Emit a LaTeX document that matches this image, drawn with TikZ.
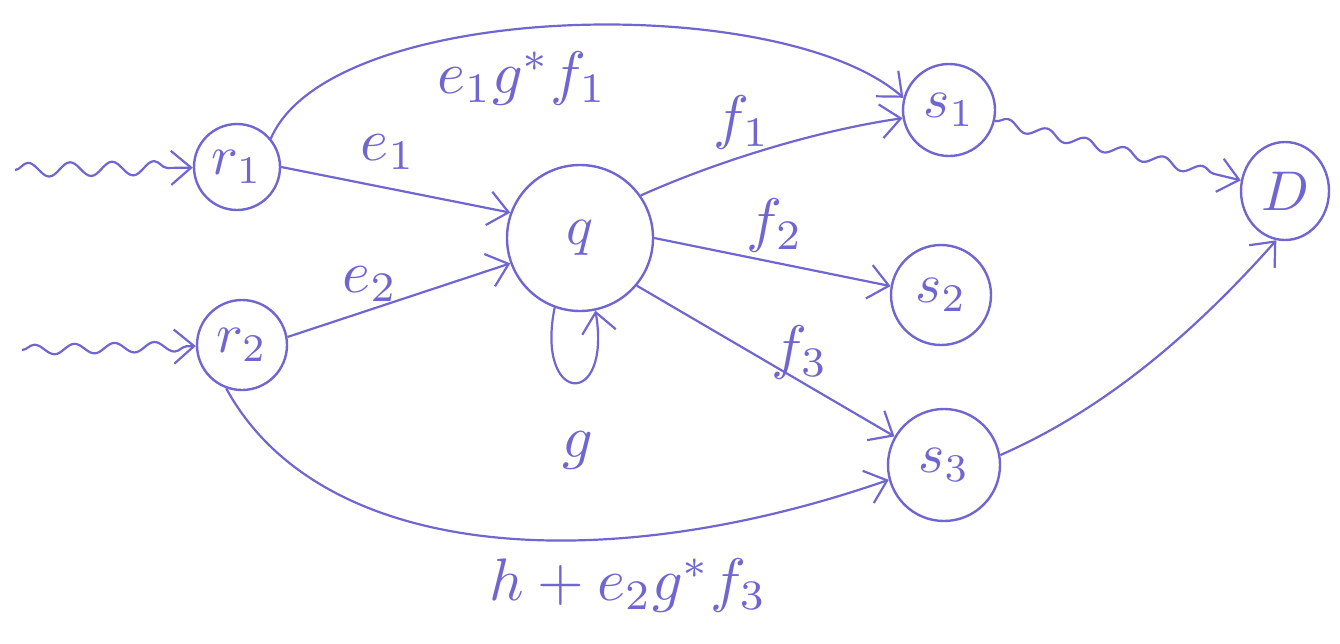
\documentclass[tikz,border=0pt]{standalone}
\usepackage{graphicx}
\usetikzlibrary{arrows.meta,decorations.pathmorphing,shapes.geometric}
\definecolor{ink}{RGB}{112,102,210}
\newcommand{\bigtxt}[1]{\scalebox{5.6}{#1}}
\newcommand{\labtxt}[1]{\scalebox{6}{#1}}
\begin{document}
\begin{tikzpicture}[x=1pt,y=-1pt,
  st/.style={draw=ink,circle,line width=2.4pt,text=ink,inner sep=0pt},
  ed/.style={draw=ink,line width=2.2pt,-{Straight Barb[length=20pt,width=34pt,line width=2.2pt]}},
  wav/.style={ed,decorate,decoration={snake,amplitude=7pt,segment length=42pt,post length=8pt}},
  wavs/.style={ed,decorate,decoration={snake,amplitude=5pt,segment length=40pt,post length=8pt}},
  lab/.style={text=ink}]
\useasboundingbox (0,0) rectangle (1340,643);
\node[st,minimum size=86pt] (r1) at (237,167) {\bigtxt{$r_1$}};
\node[st,minimum size=90pt] (r2) at (242,345) {\bigtxt{$r_2$}};
\node[st,minimum size=146pt] (q) at (580,238) {\bigtxt{$q$}};
\node[st,minimum size=92pt] (s1) at (949,110) {\bigtxt{$s_1$}};
\node[st,minimum size=100pt] (s2) at (941,295) {\bigtxt{$s_2$}};
\node[st,minimum size=112pt] (s3) at (944,465) {\bigtxt{$s_3$}};
\node[st,ellipse,minimum width=88pt,minimum height=98pt] (o) at (1285,191) {\bigtxt{$D$}};
\coordinate (in1) at (15,170);
\coordinate (in2) at (22,350);
\draw[wav] (in1) -- (r1);
\draw[wavs] (in2) -- (r2);
\draw[ed] (r1.40) .. controls (330,0) and (780,-10) .. (s1.165);
\draw[ed] (r1.east) -- (q.160);
\draw[ed] (r2.10) -- (q.200);
\draw[ed] (q.35) .. controls (720,160) and (820,130) .. (s1.190);
\draw[ed] (q.east) -- (s2.170);
\draw[ed] (q.-40) -- (s3.150);
\draw[ed] (q.250) .. controls (535,405) and (612,410) .. (q.282);
\draw[ed] (r2.250) .. controls (320,560) and (600,580) .. (s3.195);
\draw[wavs] (s1) -- (o);
\draw[ed] (s3.10) .. controls (1080,420) and (1170,360) .. (o.260);
\node[lab] (l1) at (522,78) {\labtxt{$e_1g^*f_1$}};
\node[lab] (l2) at (388,152) {\labtxt{$e_1$}};
\node[lab] (l3) at (370,284) {\labtxt{$e_2$}};
\node[lab] (l4) at (742,122) {\labtxt{$f_1$}};
\node[lab] (l5) at (775,225) {\labtxt{$f_2$}};
\node[lab] (l6) at (800,352) {\labtxt{$f_3$}};
\node[lab] (l7) at (578,450) {\labtxt{$g$}};
\node[lab] (l8) at (628,585) {\labtxt{$h+e_2g^*f_3$}};
\end{tikzpicture}
\end{document}
